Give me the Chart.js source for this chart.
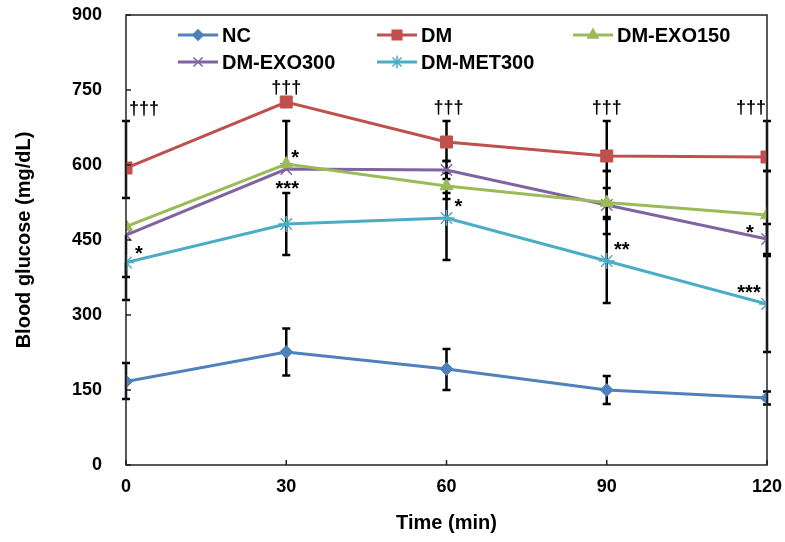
<!DOCTYPE html>
<html>
<head>
<meta charset="utf-8">
<script src="https://cdn.jsdelivr.net/npm/chart.js@4.4.0/dist/chart.umd.min.js"></script>
<style>
  html, body { margin: 0; padding: 0; background: #fff; }
  #wrap { width: 785px; height: 542px; }
</style>
</head>
<body>
<div id="wrap"><canvas id="glucose-chart" width="785" height="542"></canvas></div>
<script>
// Time points (min) and y tick labels
const timePoints = [0, 30, 60, 90, 120];
const yTicks = [0, 150, 300, 450, 600, 750, 900];

// Mean blood glucose (mg/dL)
const ncValues     = [167, 226, 192, 150, 134];
const dmValues     = [594, 726, 646, 618, 616];
const exo150Values = [477, 602, 558, 525, 500];
const exo300Values = [460, 592, 590, 520, 452];
const met300Values = [405, 482, 494, 408, 322];

// Error bars (upper / lower part)
const ncErrUp       = [37, 47, 40, 28, 13];
const ncErrDown     = [35, 47, 42, 28, 13];
const dmErrUp       = [94, 0, 42, 70, 72];
const dmErrDown     = [60, 0, 38, 30, 28];
const exo150ErrUp   = [0, 86, 26, 29, 88];
const exo150ErrDown = [0, 0, 26, 29, 80];
const exo300ErrUp   = [0, 0, 18, 68, 30];
const exo300ErrDown = [130, 0, 18, 58, 30];
const met300ErrUp   = [0, 62, 50, 84, 96];
const met300ErrDown = [29, 62, 84, 84, 96];

// Significance marks: text, time point, y value, pixel nudge
const markTexts  = ['†††', '†††', '†††', '†††', '†††', '*', '*', '***', '*', '**', '*', '***'];
const markTimes  = [0, 30, 60, 90, 120, 0, 30, 30, 60, 90, 120, 120];
const markValues = [714, 756, 716, 716, 716, 434, 626, 564, 528, 442, 476, 356];
const markNudge  = [18, 0, 2, 0, -16, 13, 9, 1, 12, 15, -17, -18];

const FONT = "'Liberation Sans', Arial, sans-serif";

const series = [
  { label: 'NC',        data: ncValues,     up: ncErrUp,     down: ncErrDown,     color: '#4F81BD', style: 'rectRot',  r: 6.5 },
  { label: 'DM',        data: dmValues,     up: dmErrUp,     down: dmErrDown,     color: '#C0504D', style: 'rect',     r: 8.5 },
  { label: 'DM-EXO150', data: exo150Values, up: exo150ErrUp, down: exo150ErrDown, color: '#9BBB59', style: 'triangle', r: 7.5 },
  { label: 'DM-EXO300', data: exo300Values, up: exo300ErrUp, down: exo300ErrDown, color: '#8064A2', style: 'crossRot', r: 8 },
  { label: 'DM-MET300', data: met300Values, up: met300ErrUp, down: met300ErrDown, color: '#4BACC6', style: 'star',     r: 8 }
];

// legend slot positions (x of line start, y centre)
const legendSlots = [[178, 35], [377, 35], [573, 35], [178, 62], [377, 62]];

// drop the label overhang so the plot box sits where layout padding puts it
function noOverhang(sc) {
  sc.paddingTop = 0; sc.paddingBottom = 0;
  sc.paddingLeft = 0; sc.paddingRight = 0;
}

const extras = {
  id: 'extras',
  beforeDatasetsDraw(chart) {
    const ctx = chart.ctx, xs = chart.scales.x, ys = chart.scales.y;
    ctx.save();
    ctx.strokeStyle = '#000';
    ctx.lineWidth = 2.5;
    series.forEach(s => {
      timePoints.forEach((t, j) => {
        const x = xs.getPixelForValue(t);
        const y0 = ys.getPixelForValue(s.data[j]);
        [s.up[j], -s.down[j]].forEach(e => {
          if (!e) return;
          const y1 = ys.getPixelForValue(s.data[j] + e);
          ctx.beginPath();
          ctx.moveTo(x, y0); ctx.lineTo(x, y1);
          ctx.moveTo(x - 4, y1); ctx.lineTo(x + 4, y1);
          ctx.stroke();
        });
      });
    });
    ctx.restore();
  },
  afterDatasetsDraw(chart) {
    const ctx = chart.ctx, xs = chart.scales.x, ys = chart.scales.y;
    ctx.save();
    ctx.fillStyle = '#000';
    ctx.textAlign = 'center';
    ctx.textBaseline = 'alphabetic';
    markTexts.forEach((txt, i) => {
      const x = xs.getPixelForValue(markTimes[i]) + markNudge[i];
      const y = ys.getPixelForValue(markValues[i]);
      const isStar = txt[0] === '*';
      ctx.font = 'bold ' + (isStar ? 20 : 18) + 'px ' + FONT;
      ctx.fillText(txt, x, y + (isStar ? 12 : 6));
    });
    ctx.restore();
  },
  afterDraw(chart) {
    const ctx = chart.ctx, a = chart.chartArea, xs = chart.scales.x, ys = chart.scales.y;
    ctx.save();
    // plot frame
    ctx.strokeStyle = '#222';
    ctx.lineWidth = 1.5;
    ctx.strokeRect(a.left, a.top, a.right - a.left, a.bottom - a.top);
    // inside tick marks
    ctx.beginPath();
    yTicks.forEach(v => {
      const y = ys.getPixelForValue(v);
      ctx.moveTo(a.left, y); ctx.lineTo(a.left + 5, y);
    });
    timePoints.forEach(t => {
      const x = xs.getPixelForValue(t);
      ctx.moveTo(x, a.bottom); ctx.lineTo(x, a.bottom - 5);
    });
    ctx.stroke();
    // legend
    ctx.font = 'bold 20px ' + FONT;
    ctx.textBaseline = 'middle';
    ctx.textAlign = 'left';
    series.forEach((s, i) => {
      const [lx, ly] = legendSlots[i];
      ctx.strokeStyle = s.color;
      ctx.lineWidth = 3;
      ctx.beginPath();
      ctx.moveTo(lx, ly); ctx.lineTo(lx + 40, ly);
      ctx.stroke();
      if (Chart.helpers && Chart.helpers.drawPoint) {
        ctx.fillStyle = s.color;
        ctx.lineWidth = 1.5;
        Chart.helpers.drawPoint(ctx, { pointStyle: s.style, radius: s.r * 0.8, borderWidth: 1.5, rotation: 0 }, lx + 20, ly);
      }
      ctx.fillStyle = '#000';
      ctx.fillText(s.label, lx + 44, ly + 1);
    });
    ctx.restore();
  }
};

new Chart(document.getElementById('glucose-chart').getContext('2d'), {
  type: 'line',
  data: {
    datasets: series.map(s => ({
      label: s.label,
      data: timePoints.map((t, j) => ({ x: t, y: s.data[j] })),
      borderColor: s.color,
      backgroundColor: s.color,
      pointBackgroundColor: s.color,
      pointBorderColor: s.color,
      pointStyle: s.style,
      pointRadius: s.r,
      pointBorderWidth: (s.style === 'crossRot' || s.style === 'star') ? 1.5 : 1,
      borderWidth: 3,
      tension: 0,
      fill: false
    }))
  },
  options: {
    responsive: false,
    animation: false,
    devicePixelRatio: 1,
    layout: { padding: { top: 15, right: 18, left: 0, bottom: 0 } },
    plugins: { legend: { display: false }, tooltip: { enabled: false } },
    scales: {
      x: {
        type: 'linear',
        min: 0, max: 120,
        afterBuildTicks: sc => { sc.ticks = timePoints.map(v => ({ value: v })); },
        afterFit: sc => { sc.height = 77; noOverhang(sc); },
        grid: { display: false, drawTicks: false },
        border: { display: false },
        ticks: { color: '#000', font: { family: FONT, size: 18, weight: 'bold' }, padding: 11 },
        title: { display: true, text: 'Time (min)', color: '#000', font: { family: FONT, size: 20, weight: 'bold' }, padding: { top: 0, bottom: 7 } }
      },
      y: {
        min: 0, max: 900,
        afterBuildTicks: sc => { sc.ticks = yTicks.map(v => ({ value: v })); },
        afterFit: sc => { sc.width = 126; noOverhang(sc); },
        grid: { display: false, drawTicks: false },
        border: { display: false },
        ticks: { color: '#000', font: { family: FONT, size: 18, weight: 'bold' }, padding: 24 },
        title: { display: true, text: 'Blood glucose (mg/dL)', color: '#000', font: { family: FONT, size: 20, weight: 'bold' }, padding: { top: 12, bottom: 0 } }
      }
    }
  },
  plugins: [extras]
});
</script>
</body>
</html>
